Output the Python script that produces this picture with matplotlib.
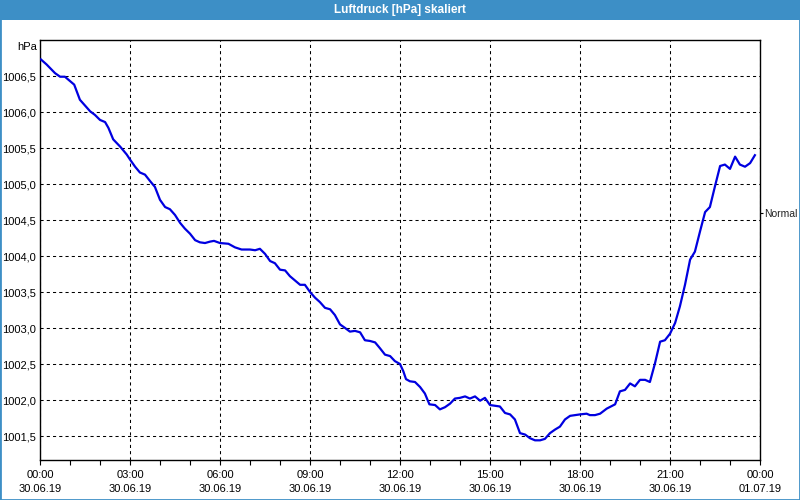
import matplotlib
matplotlib.use("Agg")
import matplotlib.pyplot as plt
from matplotlib.patches import Rectangle
from matplotlib.ticker import FixedLocator

# ---- data (hours since 30.06.19 00:00, pressure in hPa) ----
hours = [0.03, 0.22, 0.5, 0.67, 0.83, 1.0, 1.14, 1.22, 1.33, 1.5, 1.67, 1.83, 2.0, 2.17, 2.28,
         2.44, 2.67, 2.89, 3.0, 3.17, 3.33, 3.5, 3.67, 3.83, 4.0, 4.17, 4.33, 4.5, 4.67, 4.83,
         5.0, 5.17, 5.33, 5.5, 5.67, 5.8, 6.0, 6.28, 6.5, 6.72, 7.0, 7.17, 7.33, 7.5, 7.67,
         7.83, 8.0, 8.17, 8.33, 8.5, 8.67, 8.83, 9.0, 9.17, 9.33, 9.5, 9.67, 9.83, 10.0, 10.17,
         10.33, 10.5, 10.67, 10.83, 11.0, 11.17, 11.33, 11.5, 11.67, 11.83, 12.0, 12.11, 12.2,
         12.33, 12.5, 12.67, 12.83, 12.98, 13.17, 13.33, 13.5, 13.67, 13.83, 14.0, 14.17, 14.33,
         14.5, 14.67, 14.83, 15.0, 15.17, 15.33, 15.5, 15.67, 15.83, 16.0, 16.17, 16.33, 16.5,
         16.67, 16.83, 17.0, 17.17, 17.33, 17.5, 17.67, 17.83, 18.0, 18.22, 18.33, 18.5, 18.67,
         18.89, 19.17, 19.33, 19.5, 19.67, 19.83, 20.0, 20.17, 20.33, 20.5, 20.67, 20.83, 21.0,
         21.17, 21.33, 21.5, 21.67, 21.83, 22.0, 22.17, 22.33, 22.5, 22.67, 22.83, 23.0, 23.17,
         23.33, 23.5, 23.67, 23.83]
pressure = [1006.73, 1006.66, 1006.54, 1006.49, 1006.49, 1006.43, 1006.38, 1006.29, 1006.17,
            1006.09, 1006.01, 1005.96, 1005.89, 1005.86, 1005.78, 1005.62, 1005.52, 1005.41,
            1005.34, 1005.24, 1005.16, 1005.13, 1005.04, 1004.96, 1004.78, 1004.68, 1004.65,
            1004.57, 1004.46, 1004.38, 1004.31, 1004.22, 1004.19, 1004.18, 1004.20, 1004.21,
            1004.18, 1004.17, 1004.12, 1004.09, 1004.09, 1004.08, 1004.10, 1004.03, 1003.93,
            1003.90, 1003.81, 1003.80, 1003.72, 1003.66, 1003.60, 1003.60, 1003.50, 1003.42,
            1003.36, 1003.28, 1003.26, 1003.18, 1003.05, 1003.00, 1002.95, 1002.96, 1002.94,
            1002.83, 1002.82, 1002.80, 1002.72, 1002.63, 1002.61, 1002.54, 1002.50, 1002.40,
            1002.29, 1002.26, 1002.25, 1002.18, 1002.09, 1001.94, 1001.93, 1001.87, 1001.90,
            1001.95, 1002.02, 1002.03, 1002.05, 1002.02, 1002.05, 1001.99, 1002.03, 1001.93,
            1001.92, 1001.91, 1001.82, 1001.80, 1001.73, 1001.54, 1001.52, 1001.47, 1001.44,
            1001.44, 1001.46, 1001.54, 1001.59, 1001.63, 1001.73, 1001.78, 1001.79, 1001.80,
            1001.81, 1001.79, 1001.79, 1001.81, 1001.88, 1001.94, 1002.12, 1002.14, 1002.23,
            1002.19, 1002.28, 1002.28, 1002.25, 1002.51, 1002.81, 1002.83, 1002.92, 1003.07,
            1003.30, 1003.60, 1003.95, 1004.06, 1004.34, 1004.61, 1004.68, 1004.97, 1005.25,
            1005.27, 1005.21, 1005.38, 1005.27, 1005.24, 1005.29, 1005.40]

x_ticks = [0, 3, 6, 9, 12, 15, 18, 21, 24]
x_tick_labels = ["00:00\n30.06.19", "03:00\n30.06.19", "06:00\n30.06.19", "09:00\n30.06.19",
                 "12:00\n30.06.19", "15:00\n30.06.19", "18:00\n30.06.19", "21:00\n30.06.19",
                 "00:00\n01.07.19"]
y_ticks = [1001.5, 1002.0, 1002.5, 1003.0, 1003.5, 1004.0, 1004.5, 1005.0, 1005.5, 1006.0, 1006.5]
y_tick_labels = ["1001,5", "1002,0", "1002,5", "1003,0", "1003,5", "1004,0", "1004,5",
                 "1005,0", "1005,5", "1006,0", "1006,5"]
normal_level = 1004.6
title = "Luftdruck [hPa] skaliert"
unit = "hPa"

# ---- style ----
plt.rcParams['font.family'] = ['Liberation Sans', 'DejaVu Sans']
BLUE_BAR = '#3d8fc6'
LINE = '#0000e0'

fig = plt.figure(figsize=(8, 5), dpi=100)
fig.patch.set_facecolor('white')

# title bar and frame
fig.patches.append(Rectangle((0, 1 - 20 / 500), 1, 20 / 500, transform=fig.transFigure,
                             facecolor=BLUE_BAR, edgecolor='none', zorder=0))
fig.patches.append(Rectangle((0, 0), 1, 1, transform=fig.transFigure, fill=False,
                             edgecolor=BLUE_BAR, linewidth=2.0, zorder=5))
fig.text(0.5, 1 - 10 / 500, title, ha='center', va='center', color='white',
         fontsize=8.5, fontweight='bold')

ax = fig.add_axes([40 / 800, 40 / 500, 720 / 800, 420 / 500])
ax.plot(hours, pressure, color=LINE, linewidth=1.6, zorder=3)

ax.set_xlim(0, 24)
ax.set_ylim(1001.1667, 1007.0)

ax.set_xticks(x_ticks)
ax.set_xticklabels(x_tick_labels, fontsize=8, linespacing=1.45)
ax.xaxis.set_minor_locator(FixedLocator(list(range(0, 25))))
ax.set_yticks(y_ticks)
ax.set_yticklabels(y_tick_labels, fontsize=8)

ax.tick_params(axis='x', which='both', direction='out', length=3.5, width=0.8, pad=4,
               colors='black')
ax.tick_params(axis='y', which='both', length=0, pad=3)

ax.grid(True, which='major', color='black', linestyle=(0, (3, 3)), linewidth=0.75)
for s in ax.spines.values():
    s.set_linewidth(1.0)
    s.set_color('black')

ax.text(-3 / 720, 1 - 7 / 420, unit, transform=ax.transAxes, ha='right', va='center',
        fontsize=8)

# right "Normal" marker
ax2 = ax.twinx()
ax2.set_ylim(ax.get_ylim())
ax2.set_yticks([normal_level])
ax2.set_yticklabels(["Normal"], fontsize=7.5, color='#222222')
ax2.tick_params(axis='y', direction='out', length=2.5, width=0.8, pad=0.5)
for s in ax2.spines.values():
    s.set_visible(False)

fig.savefig("out.png", dpi=100)
